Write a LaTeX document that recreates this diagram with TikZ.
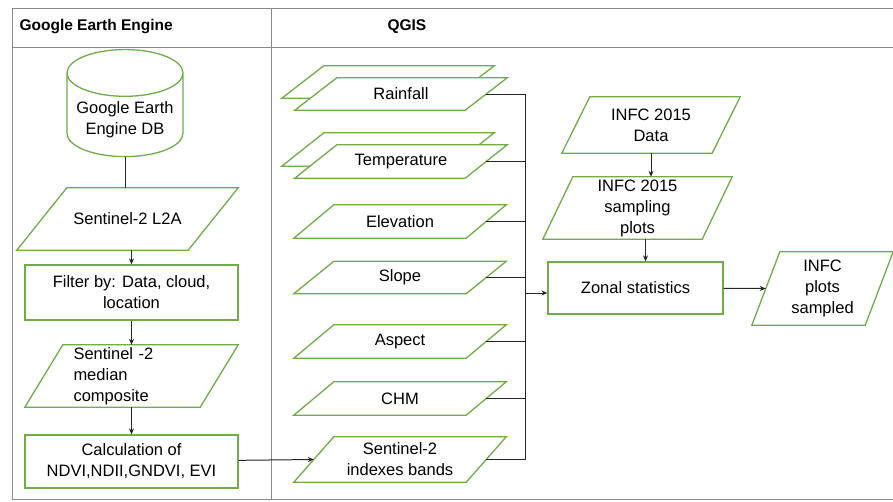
\documentclass[tikz,border=0pt]{standalone}
\usepackage{fontspec}
\setmainfont{Liberation Sans}
\usetikzlibrary{arrows.meta,shapes.geometric,backgrounds}
\definecolor{boxgreen}{HTML}{70AD47}
\definecolor{wire}{HTML}{262626}
\definecolor{rulegray}{HTML}{8A8A8A}
\tikzset{
  procbox/.style={draw=boxgreen, line width=1.3pt, fill=white, inner sep=2pt,
                  align=center, font=\fontsize{16.5}{21}\selectfont},
  datatext/.style={inner sep=0pt, align=center, font=\fontsize{16.5}{21}\selectfont},
  pgline/.style={draw=boxgreen, line width=1.3pt, fill=white},
  dbbox/.style={cylinder, shape border rotate=90, aspect=0.45, draw=boxgreen, line width=1.3pt,
                fill=white, align=center, font=\fontsize{16.5}{21}\selectfont},
  arr/.style={-{Stealth[length=6pt,width=5pt]}, line width=1pt, color=wire},
  wireline/.style={line width=1pt, color=wire},
  tblline/.style={line width=1pt, color=rulegray},
  headtxt/.style={anchor=west, font=\bfseries\fontsize{15.5}{18}\selectfont}}
% parallelogram round a named node, top edge pushed right by #2
\newcommand{\pgram}[2]{%
  \draw[pgline] (#1.south west) -- ([xshift=#2pt]#1.north west) -- (#1.north east)
    -- ([xshift=-#2pt]#1.south east) -- cycle;
  \coordinate (#1-w) at ([xshift=#2pt/2]#1.west);
  \coordinate (#1-e) at ([xshift=-#2pt/2]#1.east);}
\begin{document}
\begin{tikzpicture}[x=1pt, y=-1pt]
  \useasboundingbox (0,0) rectangle (893,501);
  \node[headtxt] (geehead) at (16,27) {Google Earth Engine};
  \node[headtxt] (qgishead) at (384,27) {QGIS};

  \node[dbbox, minimum width=116pt, minimum height=102pt, text height=34pt] (gee) at (125,119) {Google Earth\\Engine DB};
  \node[datatext, minimum width=221pt, minimum height=62pt] (l2a) at (127.5,219) {Sentinel-2 L2A};
  \node[procbox, minimum width=213pt, minimum height=55pt] (filter) at (131.5,292.5) {Filter by: Data, cloud,\\location};
  \node[datatext, minimum width=213pt, minimum height=62pt, text width=116pt, align=left] (median) at (131.5,376) {Sentinel -2\\median\\composite};
  \node[procbox, minimum width=213pt, minimum height=53pt] (calc) at (131.5,461.5) {Calculation of\\NDVI,NDII,GNDVI, EVI};

  \node[datatext, minimum width=212pt, minimum height=32pt] (rainback) at (388,82) {};
  \node[datatext, minimum width=212pt, minimum height=32pt] (rain) at (401,94) {Rainfall};
  \node[datatext, minimum width=212pt, minimum height=33pt] (tempback) at (388,149.5) {};
  \node[datatext, minimum width=212pt, minimum height=33pt] (temp) at (401,161.5) {Temperature};
  \node[datatext, minimum width=212pt, minimum height=33pt] (elev) at (400,221.5) {Elevation};
  \node[datatext, minimum width=212pt, minimum height=32pt] (slope) at (400,277.5) {Slope};
  \node[datatext, minimum width=212pt, minimum height=33pt] (aspect) at (400,341.5) {Aspect};
  \node[datatext, minimum width=212pt, minimum height=33pt] (chm) at (400,398.5) {CHM};
  \node[datatext, minimum width=212pt, minimum height=45pt] (s2idx) at (400,459.5) {Sentinel-2\\indexes bands};

  \node[datatext, minimum width=178pt, minimum height=56pt] (infc) at (651,125) {INFC 2015\\Data};
  \node[datatext, minimum width=189pt, minimum height=62pt] (plots) at (637.5,208) {INFC 2015\\sampling\\plots};
  \node[procbox, minimum width=175pt, minimum height=52pt] (zonal) at (635.5,288) {Zonal statistics};
  \node[datatext, minimum width=141pt, minimum height=73pt] (sampled) at (822.5,288.5) {INFC\\plots\\sampled};

  \begin{scope}[on background layer]
    \draw[tblline] (12,8) -- (893,8);
    \draw[tblline] (12,47) -- (893,47);
    \draw[tblline] (12,8) -- (12,499) -- (893,499);
    \draw[tblline] (271,8) -- (271,499);
    \pgram{l2a}{50}
    \pgram{median}{38}
    \pgram{rainback}{42}
    \pgram{rain}{42}
    \pgram{tempback}{42}
    \pgram{temp}{42}
    \foreach \lay in {elev,slope,aspect,chm,s2idx}
      {\pgram{\lay}{40}}
    \pgram{infc}{28}
    \pgram{plots}{30}
    \pgram{sampled}{28}
  \end{scope}

  \draw[wireline] (gee) -- (l2a.north -| gee);
  \draw[arr] (l2a.south -| filter.north) -- (filter.north);
  \draw[arr] (filter) -- (median);
  \draw[arr] (median) -- (calc);
  \draw[arr] (calc) -- (s2idx-w);

  \coordinate (bustop) at (525,94);
  \coordinate (busin) at (525,293);
  \draw[wireline] (rain-e) -- (rain-e -| bustop) -- (s2idx-e -| bustop) -- (s2idx-e);
  \foreach \src in {temp,elev,slope,aspect,chm}
    \draw[wireline] (\src-e) -- (\src-e -| bustop);
  \draw[arr] (busin) -- (busin -| zonal.west);

  \draw[arr] (infc.south) -- (infc.south |- plots.north);
  \draw[arr] ([xshift=8pt]plots.south) -- ([xshift=8pt]plots.south |- zonal.north);
  \draw[arr] (zonal) -- (sampled-w);
\end{tikzpicture}
\end{document}
